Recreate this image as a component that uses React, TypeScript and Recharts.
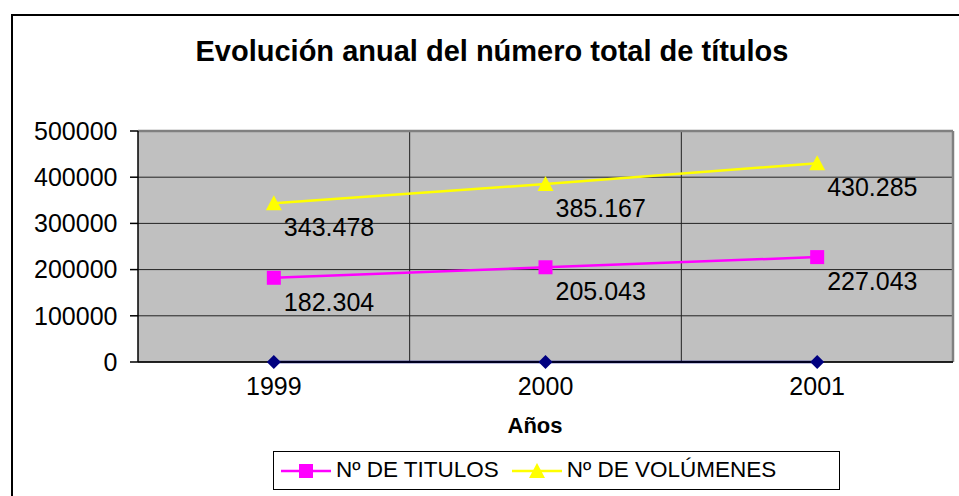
import {
  LineChart,
  Line,
  XAxis,
  YAxis,
  CartesianGrid,
  ReferenceLine,
  Legend,
  LabelList,
} from 'recharts';

const years = ['1999', '2000', '2001'];
const titulos = [182304, 205043, 227043];
const volumenes = [343478, 385167, 430285];
const baseSeries = [0, 0, 0];
const yTicks = [0, 100000, 200000, 300000, 400000, 500000];

// x sits in the middle of each category band so the grid can fall on the band edges
const data = years.map((year, i) => ({
  x: i + 0.5,
  year,
  titulos: titulos[i],
  volumenes: volumenes[i],
  base: baseSeries[i],
}));
const xTicks = data.map((d) => d.x);
const bandEdges = [1, 2];

const FONT = '"Liberation Sans", Arial, sans-serif';

const fmtThousands = (v: number) => String(v).replace(/\B(?=(\d{3})+(?!\d))/g, '.');

const SquareDot = (props: any) => {
  const { cx, cy } = props;
  if (cx == null || cy == null) return null;
  return <rect x={cx - 7} y={cy - 7} width={14} height={14} fill="#FF00FF" />;
};

const TriangleDot = (props: any) => {
  const { cx, cy } = props;
  if (cx == null || cy == null) return null;
  return <polygon points={`${cx},${cy - 8} ${cx + 8},${cy + 7} ${cx - 8},${cy + 7}`} fill="#FFFF00" />;
};

const DiamondDot = (props: any) => {
  const { cx, cy } = props;
  if (cx == null || cy == null) return null;
  return <polygon points={`${cx},${cy - 7} ${cx + 7},${cy} ${cx},${cy + 7} ${cx - 7},${cy}`} fill="#000080" />;
};

const ValueLabel = (props: any) => {
  const { x, y, value } = props;
  return (
    <text
      x={x + 10}
      y={y + 24}
      fontSize={25}
      fontFamily={FONT}
      fill="#000"
      textAnchor="start"
      dominantBaseline="central"
    >
      {fmtThousands(value)}
    </text>
  );
};

const LegendContent = (props: any) => {
  const items = (props.payload || []).filter((p: any) => p.type !== 'none');
  return (
    <div
      style={{
        boxSizing: 'border-box',
        width: 567,
        height: 39,
        border: '1px solid #000',
        background: '#fff',
        display: 'flex',
        alignItems: 'center',
        paddingLeft: 7,
        fontFamily: FONT,
        fontSize: 22.5,
        color: '#000',
      }}
    >
      {items.map((it: any, i: number) => (
        <div key={it.value} style={{ display: 'flex', alignItems: 'center', marginLeft: i === 0 ? 0 : 13 }}>
          <svg width={50} height={18} style={{ marginRight: 5 }}>
            <line x1={0} y1={9} x2={50} y2={9} stroke={it.color} strokeWidth={2.5} />
            {it.dataKey === 'titulos' ? (
              <rect x={18} y={2} width={14} height={14} fill={it.color} />
            ) : (
              <polygon points="25,1 33,16 17,16" fill={it.color} />
            )}
          </svg>
          <span style={{ lineHeight: 1 }}>{it.value}</span>
        </div>
      ))}
    </div>
  );
};

export default function App() {
  return (
    <div style={{ position: 'absolute', left: 0, top: 0, width: 959, height: 496, background: '#fff', overflow: 'hidden' }}>
      <div
        style={{
          position: 'absolute',
          left: 11,
          top: 14,
          width: 1000,
          height: 600,
          borderTop: '2px solid #000',
          borderLeft: '2px solid #000',
        }}
      />
      <div
        style={{
          position: 'absolute',
          left: 0,
          width: 984,
          top: 36.5,
          textAlign: 'center',
          fontFamily: FONT,
          fontWeight: 'bold',
          fontSize: 29,
          lineHeight: '29px',
          color: '#000',
        }}
      >
        Evolución anual del número total de títulos
      </div>
      <div
        style={{
          position: 'absolute',
          left: 435,
          width: 200,
          top: 415,
          textAlign: 'center',
          fontFamily: FONT,
          fontWeight: 'bold',
          fontSize: 22,
          lineHeight: '22px',
          color: '#000',
        }}
      >
        Años
      </div>
      <div style={{ position: 'absolute', left: 0, top: 0 }}>
        <LineChart width={959} height={496} data={data} margin={{ top: 131, right: 6, bottom: 104, left: 0 }}>
          <CartesianGrid vertical={false} fill="#C0C0C0" stroke="#222" strokeWidth={1} />
          {bandEdges.map((e) => (
            <ReferenceLine key={e} x={e} stroke="#222" strokeWidth={1} />
          ))}
          <ReferenceLine y={500000} stroke="#808080" strokeWidth={2.5} />
          <ReferenceLine x={3} stroke="#808080" strokeWidth={2.5} />
          <XAxis
            type="number"
            dataKey="x"
            domain={[0, 3]}
            ticks={xTicks}
            tickFormatter={(v: number) => years[Math.floor(v)]}
            height={30}
            tickLine={false}
            tickSize={0}
            tickMargin={15}
            axisLine={{ stroke: '#000', strokeWidth: 1.5 }}
            tick={{ fill: '#000', fontSize: 25, fontFamily: FONT }}
          />
          <YAxis
            domain={[0, 500000]}
            ticks={yTicks}
            width={138}
            tickSize={8}
            tickMargin={12.5}
            tickFormatter={(v: number) => String(v)}
            axisLine={{ stroke: '#000', strokeWidth: 1.5 }}
            tickLine={{ stroke: '#000', strokeWidth: 1.5 }}
            tick={{ fill: '#000', fontSize: 25, fontFamily: FONT }}
          />
          <Legend
            verticalAlign="middle"
            align="center"
            wrapperStyle={{ left: 273, top: 451, width: 567, height: 39 }}
            content={<LegendContent />}
          />
          <Line
            dataKey="volumenes"
            name="Nº DE VOLÚMENES"
            stroke="#FFFF00"
            strokeWidth={2.5}
            dot={<TriangleDot />}
            activeDot={false}
            isAnimationActive={false}
          >
            <LabelList dataKey="volumenes" content={<ValueLabel />} />
          </Line>
          <Line
            dataKey="titulos"
            name="Nº DE TITULOS"
            stroke="#FF00FF"
            strokeWidth={2.5}
            dot={<SquareDot />}
            activeDot={false}
            isAnimationActive={false}
          >
            <LabelList dataKey="titulos" content={<ValueLabel />} />
          </Line>
          <Line
            dataKey="base"
            name="base"
            legendType="none"
            stroke="#000080"
            strokeWidth={2.5}
            dot={<DiamondDot />}
            activeDot={false}
            isAnimationActive={false}
          />
        </LineChart>
      </div>
    </div>
  );
}
